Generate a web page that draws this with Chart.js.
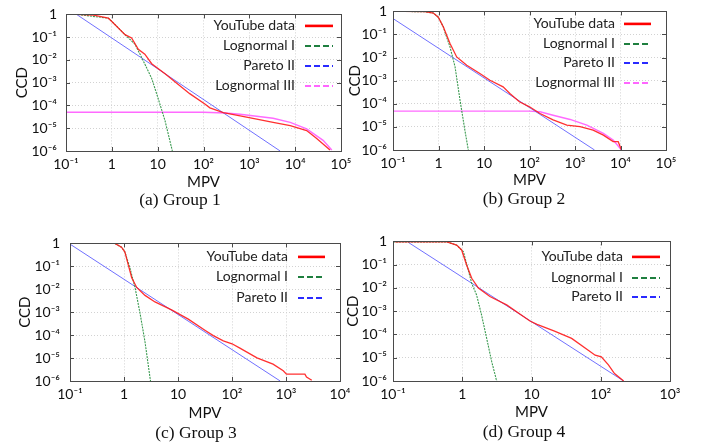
<!DOCTYPE html>
<html><head><meta charset="utf-8">
<script src="https://cdn.jsdelivr.net/npm/chart.js@4.4.1/dist/chart.umd.min.js"></script>
<style>
body{margin:0;background:#fff;width:713px;height:442px;overflow:hidden;position:relative;}
canvas{position:absolute;}
.cap{position:absolute;font-family:'Liberation Serif','Times New Roman',serif;font-size:17.5px;color:#111;transform:translate(-50%,-50%);white-space:nowrap;}
</style></head><body>
<canvas id="ca"></canvas><canvas id="cb"></canvas><canvas id="cc"></canvas><canvas id="cd"></canvas>
<div class="cap" style="left:180px;top:199px">(a) Group 1</div>
<div class="cap" style="left:524px;top:198px">(b) Group 2</div>
<div class="cap" style="left:196px;top:432px">(c) Group 3</div>
<div class="cap" style="left:524px;top:431px">(d) Group 4</div>
<script>
// ---------- tick values / labels ----------
const Y_TICKS = [1e-6, 1e-5, 1e-4, 1e-3, 1e-2, 1e-1, 1];
const Y_TICK_LABELS = ['10⁻⁶','10⁻⁵','10⁻⁴','10⁻³','10⁻²','10⁻¹','1'];
const X_TICKS_AB = [0.1, 1, 10, 100, 1000, 10000, 100000];
const X_TICK_LABELS_AB = ['10⁻¹','1','10','10²','10³','10⁴','10⁵'];
const X_TICKS_C = [0.1, 1, 10, 100, 1000, 10000];
const X_TICK_LABELS_C = ['10⁻¹','1','10','10²','10³','10⁴'];
const X_TICKS_D = [0.1, 1, 10, 100, 1000];
const X_TICK_LABELS_D = ['10⁻¹','1','10','10²','10³'];
const SERIES_NAMES = ['YouTube data','Lognormal I','Pareto II','Lognormal III'];

// ---------- Group 1 ----------
const G1_DATA_X = [0.17, 0.4, 0.84, 1.0, 1.94, 2.7, 3.78, 5.25, 7.4, 14.5, 50, 107, 138, 270, 630, 1450, 3300, 7800, 17800, 29500, 57500];
const G1_DATA_Y = [1.0, 0.93, 0.68, 0.49, 0.129, 0.093, 0.0295, 0.018, 0.0068, 0.0025, 3.3e-4, 1.17e-4, 7.9e-5, 4.9e-5, 3.5e-5, 2.5e-5, 1.8e-5, 1.3e-5, 7.9e-6, 3.5e-6, 1.1e-6];
const G1_LN1_X = [0.1, 0.17, 0.84, 1.0, 1.94, 3.2, 4.47, 7.4, 10.2, 14.5, 20.9];
const G1_LN1_Y = [1.0, 1.0, 0.68, 0.49, 0.129, 0.049, 0.0129, 0.00155, 2.1e-4, 2.1e-5, 1e-6];
const G1_PAR_X = [0.17, 10, 4700];
const G1_PAR_Y = [1.0, 0.0041, 1e-6];
const G1_LN3_X = [0.1, 100, 300, 630, 3300, 7800, 17800, 40700, 63000];
const G1_LN3_Y = [5e-5, 5e-5, 4.7e-5, 4.1e-5, 2.75e-5, 1.8e-5, 9.3e-6, 2.95e-6, 1.1e-6];

// ---------- Group 2 ----------
const G2_DATA_X = [0.17, 0.5, 0.77, 0.99, 1.28, 1.79, 2.51, 4.17, 8.1, 13.5, 26.3, 37, 60, 100, 170, 330, 660, 1290, 2500, 4200, 6900, 8900, 10500];
const G2_DATA_Y = [1.0, 0.97, 0.85, 0.56, 0.21, 0.041, 0.0107, 0.0047, 0.00204, 0.00105, 5.4e-4, 2.8e-4, 1.23e-4, 7.4e-5, 3.8e-5, 2.0e-5, 1.2e-5, 1.02e-5, 7.2e-6, 4.4e-6, 2.3e-6, 2.3e-6, 1e-6];
const G2_LN1_X = [0.1, 0.5, 0.77, 0.99, 1.28, 1.38, 1.79, 2.31, 2.97, 3.8, 4.52];
const G2_LN1_Y = [1.0, 0.97, 0.85, 0.56, 0.21, 0.129, 0.029, 0.004, 1.45e-4, 7.2e-6, 1e-6];
const G2_PAR_X = [0.1, 2690];
const G2_PAR_Y = [0.49, 1e-6];
const G2_LN3_X = [0.1, 100, 170, 330, 780, 1820, 4200, 6900, 10500];
const G2_LN3_Y = [4.8e-5, 4.8e-5, 4.5e-5, 3.2e-5, 2.1e-5, 1.2e-5, 5.2e-6, 2.7e-6, 1e-6];

// ---------- Group 3 ----------
const G3_DATA_X = [0.1, 0.68, 0.9, 1.04, 1.2, 1.39, 1.72, 2.45, 3.75, 7.6, 15.5, 32, 45, 69, 100, 140, 290, 575, 890, 1020, 2240, 2400, 3000];
const G3_DATA_Y = [1.0, 1.0, 0.68, 0.42, 0.115, 0.032, 0.012, 0.0054, 0.0028, 0.00126, 5.0e-4, 1.6e-4, 9.5e-5, 5.6e-5, 4.2e-5, 2.7e-5, 1.02e-5, 5.4e-6, 2.8e-6, 2.0e-6, 2.0e-6, 1.5e-6, 1.07e-6];
const G3_LN1_X = [0.1, 0.68, 0.9, 1.04, 1.29, 1.6, 1.98, 2.45, 3.02, 3.1];
const G3_LN1_Y = [1.0, 1.0, 0.68, 0.42, 0.083, 0.012, 9.1e-4, 5.1e-5, 1.48e-6, 1e-6];
const G3_PAR_X = [0.1, 780];
const G3_PAR_Y = [0.93, 1e-6];

// ---------- Group 4 ----------
const G4_DATA_X = [0.107, 0.6, 0.83, 0.98, 1.16, 1.37, 1.71, 2.51, 4.37, 9.5, 12, 21.5, 38, 66, 83, 102, 129, 158, 214];
const G4_DATA_Y = [0.95, 0.95, 0.69, 0.43, 0.095, 0.026, 0.0098, 0.0043, 0.00186, 3.8e-4, 2.7e-4, 1.38e-4, 6.8e-5, 2.1e-5, 1.29e-5, 1.1e-5, 4.9e-6, 2.1e-6, 1e-6];
const G4_LN1_X = [0.1, 0.6, 0.83, 1.04, 1.37, 1.61, 1.9, 2.25, 2.66, 3.14];
const G4_LN1_Y = [0.95, 0.95, 0.69, 0.36, 0.0158, 0.005, 6.9e-4, 6.9e-5, 6.9e-6, 1e-6];
const G4_PAR_X = [0.166, 214];
const G4_PAR_Y = [0.91, 1e-6];

// ---------- styles ----------
const FONT = "Lato,'Open Sans','DejaVu Sans',sans-serif";
const STYLE = [
  {color:'rgba(255,25,25,0.9)', width:1.3, dash:[], legColor:'#ff0000', legWidth:2.6, legDash:[]},
  {color:'#3a9a50', width:1.1, dash:[2,1], legColor:'#1f7f3f', legWidth:2, legDash:[6,3]},
  {color:'#7070ff', width:1, dash:[], legColor:'#2a2aff', legWidth:2, legDash:[6,3]},
  {color:'rgba(255,90,255,0.9)', width:1.4, dash:[], legColor:'#ff66ff', legWidth:2, legDash:[6,3]}
];

function pts(xs, ys){ return xs.map((x,i)=>({x:x, y:ys[i]})); }

const PANELS = [
  {id:'ca', L:66, T:11, R:341, B:151, YW:66, XH:45, ypad:9, ytp:13, xtb:5.3, xmax:1e5,
   xt:X_TICKS_AB, xl:X_TICK_LABELS_AB,
   series:[[G1_DATA_X,G1_DATA_Y],[G1_LN1_X,G1_LN1_Y],[G1_PAR_X,G1_PAR_Y],[G1_LN3_X,G1_LN3_Y]],
   leg:{tr:46, s0:36, s1:8, rows:[11,31,51,71]}},
  {id:'cb', L:393, T:11, R:666, B:150, YW:53, XH:45, ypad:6, ytp:6, xtb:6, xmax:1e5,
   xt:X_TICKS_AB, xl:X_TICK_LABELS_AB,
   series:[[G2_DATA_X,G2_DATA_Y],[G2_LN1_X,G2_LN1_Y],[G2_PAR_X,G2_PAR_Y],[G2_LN3_X,G2_LN3_Y]],
   leg:{tr:51, s0:42, s1:15, rows:[12,32,51,71]}},
  {id:'cc', L:70, T:239, R:340, B:381, YW:70, XH:45, ypad:10, ytp:16, xtb:3.7, xmax:1e4,
   xt:X_TICKS_C, xl:X_TICK_LABELS_C,
   series:[[G3_DATA_X,G3_DATA_Y],[G3_LN1_X,G3_LN1_Y],[G3_PAR_X,G3_PAR_Y]],
   leg:{tr:52, s0:42, s1:15, rows:[13,33,54]}},
  {id:'cd', L:393, T:241, R:670, B:381, YW:53, XH:45, ypad:6, ytp:4, xtb:5.3, xmax:1e3,
   xt:X_TICKS_D, xl:X_TICK_LABELS_D,
   series:[[G4_DATA_X,G4_DATA_Y],[G4_LN1_X,G4_LN1_Y],[G4_PAR_X,G4_PAR_Y]],
   leg:{tr:47, s0:38, s1:10, rows:[15,36,55]}}
];

function makePanel(p){
  const cv = document.getElementById(p.id);
  const PT = 14, PR = 22;
  cv.style.left = (p.L - p.YW) + 'px';
  cv.style.top = (p.T - PT) + 'px';
  cv.width = p.YW + (p.R - p.L) + PR;
  cv.height = PT + (p.B - p.T) + p.XH;

  const deco = {
    id:'deco_' + p.id,
    afterDatasetsDraw(chart){
      const ctx = chart.ctx, ca = chart.chartArea;
      const xs = chart.scales.x, ys = chart.scales.y;
      ctx.save();
      ctx.strokeStyle = '#4a4a4a'; ctx.lineWidth = 1; ctx.setLineDash([]);
      ctx.beginPath();
      p.xt.forEach(v=>{ const px = Math.round(xs.getPixelForValue(v)) + 0.5;
        ctx.moveTo(px, ca.bottom); ctx.lineTo(px, ca.bottom - 4);
        ctx.moveTo(px, ca.top); ctx.lineTo(px, ca.top + 4); });
      Y_TICKS.forEach(v=>{ const py = Math.round(ys.getPixelForValue(v)) + 0.5;
        ctx.moveTo(ca.left, py); ctx.lineTo(ca.left + 4, py);
        ctx.moveTo(ca.right, py); ctx.lineTo(ca.right - 4, py); });
      ctx.stroke();
      ctx.strokeRect(Math.round(ca.left) + 0.5, Math.round(ca.top) + 0.5,
                     Math.round(ca.right - ca.left), Math.round(ca.bottom - ca.top));
      ctx.restore();
    },
    afterDraw(chart){
      const ctx = chart.ctx, ca = chart.chartArea;
      ctx.save();
      ctx.font = '14px ' + FONT;
      ctx.textAlign = 'right'; ctx.textBaseline = 'middle';
      chart.data.datasets.forEach((ds, i)=>{
        const y = ca.top + p.leg.rows[i];
        ctx.fillStyle = '#222';
        ctx.fillText(ds.label, ca.right - p.leg.tr, y);
        const st = STYLE[i];
        ctx.strokeStyle = st.legColor; ctx.lineWidth = st.legWidth; ctx.setLineDash(st.legDash);
        ctx.beginPath(); ctx.moveTo(ca.right - p.leg.s0, y + 0.5); ctx.lineTo(ca.right - p.leg.s1, y + 0.5); ctx.stroke();
      });
      ctx.restore();
    }
  };

  new Chart(cv, {
    type:'line',
    data:{datasets: p.series.map((s, i)=>({
      label: SERIES_NAMES[i], data: pts(s[0], s[1]),
      borderColor: STYLE[i].color, borderWidth: STYLE[i].width, borderDash: STYLE[i].dash,
      pointRadius:0, fill:false, tension:0
    }))},
    options:{
      responsive:false, animation:false, devicePixelRatio:1,
      layout:{padding:{left:0, top:PT, right:PR, bottom:0}},
      plugins:{legend:{display:false}, tooltip:{enabled:false}},
      scales:{
        x:{type:'logarithmic', min:0.1, max:p.xmax,
           afterBuildTicks: sc=>{ sc.ticks = p.xt.map(v=>({value:v})); },
           afterFit: sc=>{ sc.height = p.XH; },
           ticks:{autoSkip:false, maxRotation:0, minRotation:0, padding:5,
                  font:{family:FONT, size:14}, color:'#111', callback:(v,i)=>p.xl[i]},
           grid:{color:'#d2d2d2', lineWidth:1, drawTicks:false},
           border:{display:false, dash:[1,2]},
           title:{display:true, text:'MPV', font:{family:FONT, size:15}, color:'#111', padding:{top:0, bottom:p.xtb}}},
        y:{type:'logarithmic', min:1e-6, max:1,
           afterBuildTicks: sc=>{ sc.ticks = Y_TICKS.map(v=>({value:v})); },
           afterFit: sc=>{ sc.width = p.YW; },
           ticks:{autoSkip:false, padding:p.ypad, font:{family:FONT, size:14}, color:'#111',
                  callback:(v,i)=>Y_TICK_LABELS[i]},
           grid:{color:'#d2d2d2', lineWidth:1, drawTicks:false},
           border:{display:false, dash:[1,2]},
           title:{display:true, text:'CCD', font:{family:FONT, size:15}, color:'#111', padding:{top:p.ytp, bottom:0}}}
      }
    },
    plugins:[deco]
  });
}
PANELS.forEach(makePanel);
</script>
</body></html>
